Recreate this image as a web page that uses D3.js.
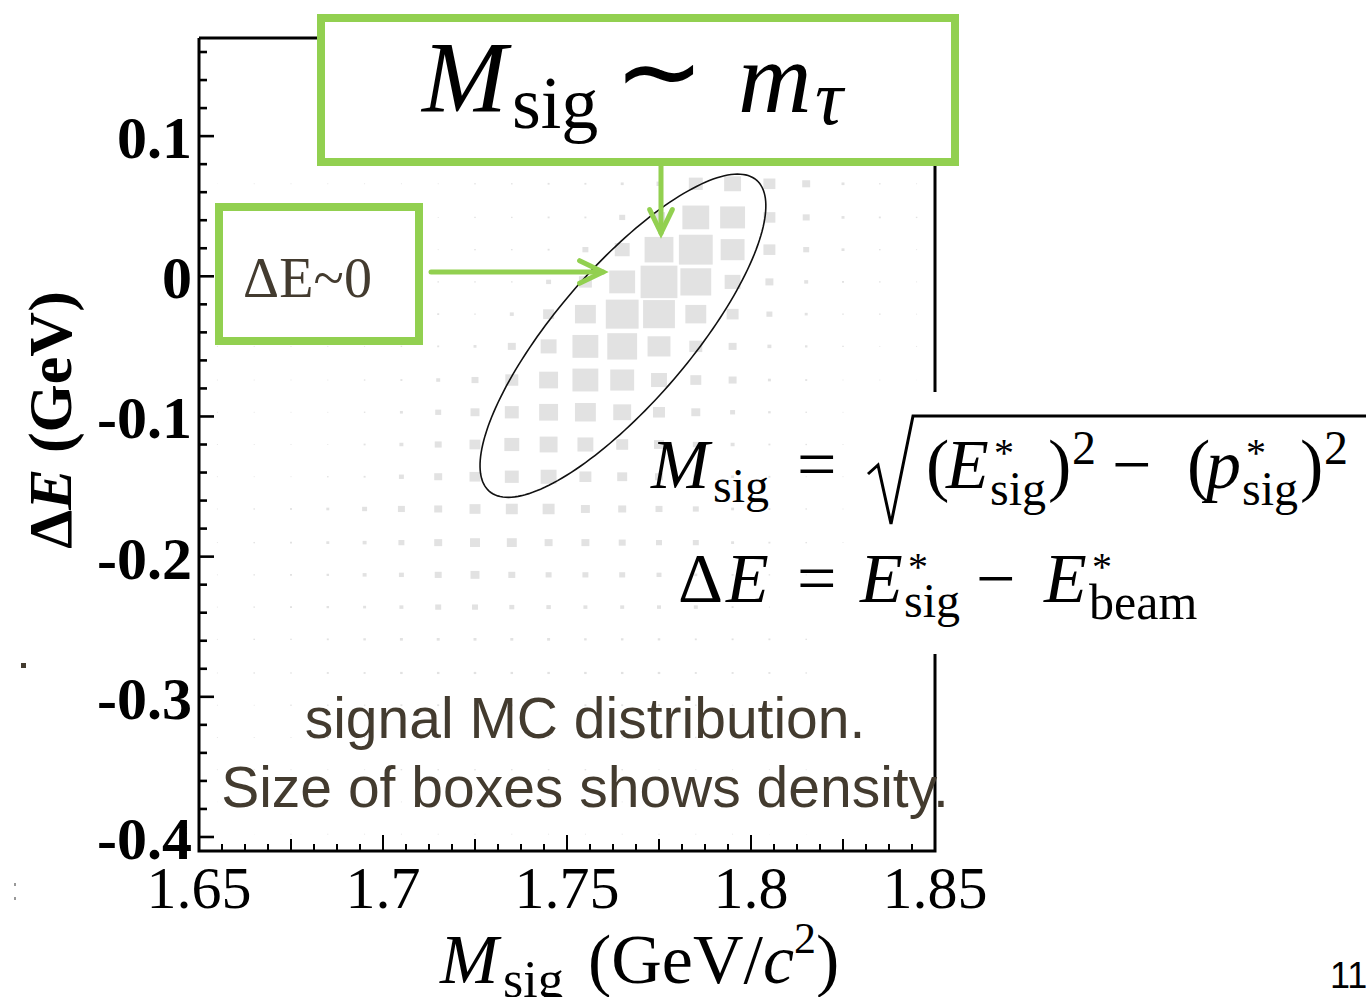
<!DOCTYPE html>
<html><head><meta charset="utf-8">
<script src="https://cdn.jsdelivr.net/npm/d3@7"></script>
<style>
html,body{margin:0;padding:0;background:#fff;}
svg{display:block;}
</style></head>
<body>
<svg id="c" width="1366" height="997"></svg>
<script>
// ---------- data ----------
const xDomain = [1.65, 1.85];
const yDomain = [-0.41, 0.17];
const xBinWidth = 0.01;
const yBinHeight = 0.0232;
const xBins = [1.655,1.665,1.675,1.685,1.695,1.705,1.715,1.725,1.735,1.745,1.755,1.765,1.775,1.785,1.795,1.805,1.815,1.825,1.835,1.845];
const yBins = [0.158,0.135,0.112,0.089,0.066,0.042,0.019,-0.004,-0.027,-0.050,-0.074,-0.097,-0.120,-0.143,-0.166,-0.190,-0.213,-0.236,-0.259,-0.283,-0.306,-0.329,-0.352,-0.375,-0.398];
// density (relative box size) per row (yBins) x column (xBins)
const density = [
 [0,0,0,0,0,0,0,0,0,0,0,0,1,2,3,4,3,1.5,1,0.5],
 [0,0,0,0,0,0,0,0,0,0,0,1,2,3,6,8,6,3,1.5,1],
 [0,0,0,0,0,0,0,0,0,1,1,2,3,6,10,12,8,3,1.5,1],
 [0,0,0,0,0,0,0,0,1,1,1.5,2,4,10,16,14,8,3,1.5,1],
 [0.5,1,1,1,1,1,1,1.5,1.5,2,2,3,5,14,17,12,8,3,1.5,1],
 [1,1,1,1,1,1,1,1.5,1.5,2,2,6,12,27,25,12,7,3,2,1.5],
 [1,1,1,1,1,1,1,1.5,1.5,2,6,15,29,34,24,12,6,3,1.5,1],
 [1,1,1,1,1,1,1.5,1.5,1.5,5,13,26,37,31,16,8,4,2,1.5,1],
 [1,1,1,1,1,1,2,1.5,4,11,21,33,32,21,12,6,3,1.5,1.5,1],
 [1,1,1,1,1,1.5,2,3,8,16,26,30,23,13,8,4,2.5,1.5,1,1],
 [1,1,1,1,1.5,2,4,7,13,19,26,24,16,11,8,3,2,1,1,0.5],
 [1,1,1,1,1.5,3,6,9,14,19,21,18,12,9,5,2.5,1.5,1,1,0.5],
 [1,1,1,1,2,4,7,11,15,18,16,12,10,6,4,2,1.5,1,0.5,0.5],
 [1,1,1,1.5,2,5,8,11,14,16,12,10,8,5,3,2,1,1,0.5,0],
 [1,1.5,2,3,5,7,8,11,12,12,9,8,7,6,3,2,1.5,1,0,0],
 [1,1.5,2,3,4,6,8,10,10,8,8,7,6,6,3,2,1.5,1,0,0],
 [1,1.5,2,2.5,4,5,7,9,7,6,6,6,5,3,2,1.5,1,0,0,0],
 [1,1.5,2,2.5,3,4,6,6,5,4.5,4,4,4,4,2,1,0,0,0,0],
 [1,1.5,1.5,2,2.5,3,3,3,3,3,2.5,2.5,2.5,2,2,2,1.5,0,0,0],
 [1,1.5,1.5,2,2,2.5,2.5,2.5,2.5,2.5,2.5,2.5,2.5,2,2,2,1.5,0,0,0],
 [1,1,1.5,1.5,1.5,2,2,2,2,2,2,2,2,1.5,1.5,1.5,1,0,0,0],
 [1,1,1,1.5,1.5,1.5,1.5,1.5,1.5,1.5,1.5,1.5,1.5,1.5,1,1,1,0,0,0],
 [1,1,1,1,1,1.5,1.5,1.5,1.5,1.5,1.5,1.5,1,1,1,1,1,0,0,0],
 [0.5,1,1,1,1,1,1,1,1,1,1,1,1,1,1,1,0.5,0,0,0],
 [0.5,0.5,1,1,1,1,1,1,1,1,1,1,1,1,1,0.5,0.5,0,0,0]
];
const densityMax = 37;
const xTickLabels = ["1.65","1.7","1.75","1.8","1.85"];
const xTickValues = [1.65,1.70,1.75,1.80,1.85];
const yTickLabels = ["0.1","0","-0.1","-0.2","-0.3","-0.4"];
const yTickValues = [0.1,0,-0.1,-0.2,-0.3,-0.4];
// signal ellipse: center, major vector, minor vector (data units)
const ellipseCenter = [1.7652, -0.0424];
const ellipseMajor = [0.0363, 0.111];
const ellipseMinor = [0.0138, -0.0312];

// ---------- drawing ----------
const svg = d3.select("#c");
const serif = "'Liberation Serif','Times New Roman',serif";
const sans = "'Liberation Sans',Arial,sans-serif";
const green = "#92d050";
const brown = "#433b2f";

const x = d3.scaleLinear().domain(xDomain).range([199, 935]);
const y = d3.scaleLinear().domain(yDomain).range([851, 38]);
const sz = d3.scaleLinear().domain([0, densityMax]).range([0, 1]);
const cw = x(xDomain[0] + xBinWidth) - x(xDomain[0]);
const ch = y(yDomain[0]) - y(yDomain[0] + yBinHeight);

const cells = [];
yBins.forEach((yv, i) => xBins.forEach((xv, j) => {
  if (density[i][j] > 0) cells.push({x: xv, y: yv, d: density[i][j]});
}));

svg.append("g").selectAll("rect").data(cells).join("rect")
  .attr("x", d => x(d.x) - sz(d.d) * cw / 2)
  .attr("y", d => y(d.y) - sz(d.d) * ch / 2)
  .attr("width", d => sz(d.d) * cw)
  .attr("height", d => sz(d.d) * ch)
  .attr("fill", "#e2e2e2");

// ellipse
const ts = d3.range(0, 2 * Math.PI + 0.001, Math.PI / 90);
const ell = ts.map(t => [
  ellipseCenter[0] + ellipseMajor[0] * Math.cos(t) + ellipseMinor[0] * Math.sin(t),
  ellipseCenter[1] + ellipseMajor[1] * Math.cos(t) + ellipseMinor[1] * Math.sin(t)]);
svg.append("path").attr("d", d3.line().x(d => x(d[0])).y(d => y(d[1]))(ell))
  .attr("fill", "none").attr("stroke", "#111").attr("stroke-width", 1.6);

// white background of formula image
svg.append("rect").attr("x", 862).attr("y", 392).attr("width", 504).attr("height", 262).attr("fill", "#fff");

// frame
svg.append("path").attr("d", `M${x(1.65)},${y(0.17)}V${y(-0.41)}H${x(1.85)}V${y(0.17)}H${x(1.65)}`)
  .attr("stroke", "#000").attr("fill", "none").attr("stroke-width", 3);
svg.append("rect").attr("x", 930).attr("y", 392).attr("width", 12).attr("height", 262).attr("fill", "#fff");

// y ticks (inward)
const yMinor = d3.range(-0.40, 0.1701, 0.02);
svg.append("g").selectAll("line").data(yMinor).join("line")
  .attr("x1", x(1.65)).attr("x2", d => x(1.65) + (Math.abs(Math.round(d*50)) % 5 === 0 ? 15 : 8))
  .attr("y1", d => y(d)).attr("y2", d => y(d))
  .attr("stroke", "#000").attr("stroke-width", 2.6);
// x ticks (inward)
const xMinor = d3.range(1.65, 1.8501, 0.00625);
svg.append("g").selectAll("line").data(xMinor).join("line")
  .attr("x1", d => x(d)).attr("x2", d => x(d))
  .attr("y1", y(-0.41)).attr("y2", d => {
    const k = Math.round((d - 1.65) / 0.00625);
    return y(-0.41) - (k % 8 === 0 ? 16 : (k % 4 === 0 ? 12 : 7));
  })
  .attr("stroke", "#000").attr("stroke-width", 2);

// tick labels
svg.append("g").selectAll("text").data(yTickValues).join("text")
  .attr("x", 192).attr("y", d => y(d) + 22)
  .attr("text-anchor", "end").attr("font-family", serif).attr("font-weight", "bold")
  .attr("font-size", 60).attr("fill", "#000")
  .text((d, i) => yTickLabels[i]);
svg.append("g").selectAll("text").data(xTickValues).join("text")
  .attr("x", d => x(d)).attr("y", 908)
  .attr("text-anchor", "middle").attr("font-family", serif)
  .attr("font-size", 60).attr("fill", "#000")
  .text((d, i) => xTickLabels[i]);

// axis titles
const yt = svg.append("text").attr("transform", "translate(71,420) rotate(-90)")
  .attr("text-anchor", "middle").attr("font-family", serif).attr("font-weight", "bold")
  .attr("font-size", 62).attr("fill", "#000");
yt.append("tspan").text("Δ");
yt.append("tspan").attr("font-style", "italic").text("E");
yt.append("tspan").text(" (GeV)");

const xt = svg.append("text").attr("y", 983).attr("font-family", serif)
  .attr("font-size", 70).attr("fill", "#000");
xt.append("tspan").attr("x", 440).attr("font-style", "italic").text("M");
xt.append("tspan").attr("x", 503).attr("y", 997).attr("font-size", 52).text("sig");
xt.append("tspan").attr("x", 588).attr("y", 983).text("(GeV/");
xt.append("tspan").attr("font-style", "italic").text("c");
xt.append("tspan").attr("font-size", 44).attr("dy", -30).text("2");
xt.append("tspan").attr("dy", 30).text(")");

// title box
svg.append("rect").attr("x", 321).attr("y", 18).attr("width", 634).attr("height", 144)
  .attr("fill", "#fff").attr("stroke", green).attr("stroke-width", 8);
const tt = svg.append("text").attr("y", 112).attr("font-family", serif).attr("font-size", 102).attr("fill", "#000");
tt.append("tspan").attr("x", 422).attr("font-style", "italic").text("M");
tt.append("tspan").attr("x", 512).attr("y", 128).attr("font-size", 74).text("sig");
tt.append("tspan").attr("x", 614).attr("y", 108).attr("font-size", 108).text("∼");
tt.append("tspan").attr("x", 738).attr("y", 112).attr("font-style", "italic").text("m");
tt.append("tspan").attr("x", 815).attr("y", 124).attr("font-size", 78).attr("font-style", "italic").text("τ");

// arrows
const arrow = (x1, y1, x2, y2) => {
  const g = svg.append("g").attr("stroke", green).attr("fill", "none").attr("stroke-width", 5).attr("stroke-linecap", "round");
  g.append("line").attr("x1", x1).attr("y1", y1).attr("x2", x2).attr("y2", y2);
  const a = Math.atan2(y2 - y1, x2 - x1), L = 26, w = 0.45;
  g.append("path").attr("d", `M${x2 - L*Math.cos(a-w)},${y2 - L*Math.sin(a-w)}L${x2},${y2}L${x2 - L*Math.cos(a+w)},${y2 - L*Math.sin(a+w)}`);
};
arrow(661, 166, 661, 233);
arrow(431, 272, 603, 272);

// ΔE~0 box
svg.append("rect").attr("x", 219).attr("y", 207).attr("width", 200).attr("height", 134)
  .attr("fill", "#fff").attr("stroke", green).attr("stroke-width", 8);
svg.append("text").attr("x", 243).attr("y", 297).attr("font-family", serif)
  .attr("font-size", 56).attr("fill", brown).attr("textLength", 129).text("ΔE~0");

// formulas (absolute positions)
const F = 70, S = 48;
const piece = (g, str, px, py, opts = {}) => {
  const t = g.append("text").attr("x", px).attr("y", py).attr("font-family", serif)
    .attr("font-size", opts.size || F).attr("fill", "#000").text(str);
  if (opts.italic) t.attr("font-style", "italic");
  return t;
};
const fg = svg.append("g");
piece(fg, "M", 651, 488, {italic: true});
piece(fg, "sig", 713, 502, {size: S});
piece(fg, "=", 797, 488);
svg.append("path").attr("d", "M868,474 L878,465 L891,524 L913,416 H1366")
  .attr("fill", "none").attr("stroke", "#000").attr("stroke-width", 3);
piece(fg, "(", 926, 488);
piece(fg, "E", 946, 488, {italic: true});
piece(fg, "*", 994, 466, {size: 40});
piece(fg, "sig", 990, 505, {size: S});
piece(fg, ")", 1048, 488);
piece(fg, "2", 1072, 464, {size: S});
piece(fg, "−", 1112, 488);
piece(fg, "(", 1187, 488);
piece(fg, "p", 1206, 488, {italic: true});
piece(fg, "*", 1246, 466, {size: 40});
piece(fg, "sig", 1242, 505, {size: S});
piece(fg, ")", 1300, 488);
piece(fg, "2", 1324, 464, {size: S});

piece(fg, "Δ", 678, 602);
piece(fg, "E", 726, 602, {italic: true});
piece(fg, "=", 797, 602);
piece(fg, "E", 860, 602, {italic: true});
piece(fg, "*", 908, 580, {size: 40});
piece(fg, "sig", 904, 617, {size: S});
piece(fg, "−", 976, 602);
piece(fg, "E", 1044, 602, {italic: true});
piece(fg, "*", 1092, 580, {size: 40});
piece(fg, "beam", 1089, 619, {size: 50});

// captions
svg.append("text").attr("x", 585).attr("y", 738).attr("text-anchor", "middle")
  .attr("font-family", sans).attr("font-size", 57).attr("fill", brown).text("signal MC distribution.");
svg.append("text").attr("x", 585).attr("y", 807).attr("text-anchor", "middle")
  .attr("font-family", sans).attr("font-size", 57).attr("fill", brown).text("Size of boxes shows density.");

// page number & stray marks
svg.append("text").attr("x", 1330).attr("y", 988).attr("font-family", sans)
  .attr("font-size", 36).attr("fill", "#000").text("11");
svg.append("rect").attr("x", 21).attr("y", 663).attr("width", 5).attr("height", 5).attr("fill", brown);
svg.append("rect").attr("x", 14).attr("y", 883).attr("width", 2).attr("height", 3).attr("fill", "#999");
svg.append("rect").attr("x", 14).attr("y", 897).attr("width", 2).attr("height", 3).attr("fill", "#999");
</script>
</body></html>
